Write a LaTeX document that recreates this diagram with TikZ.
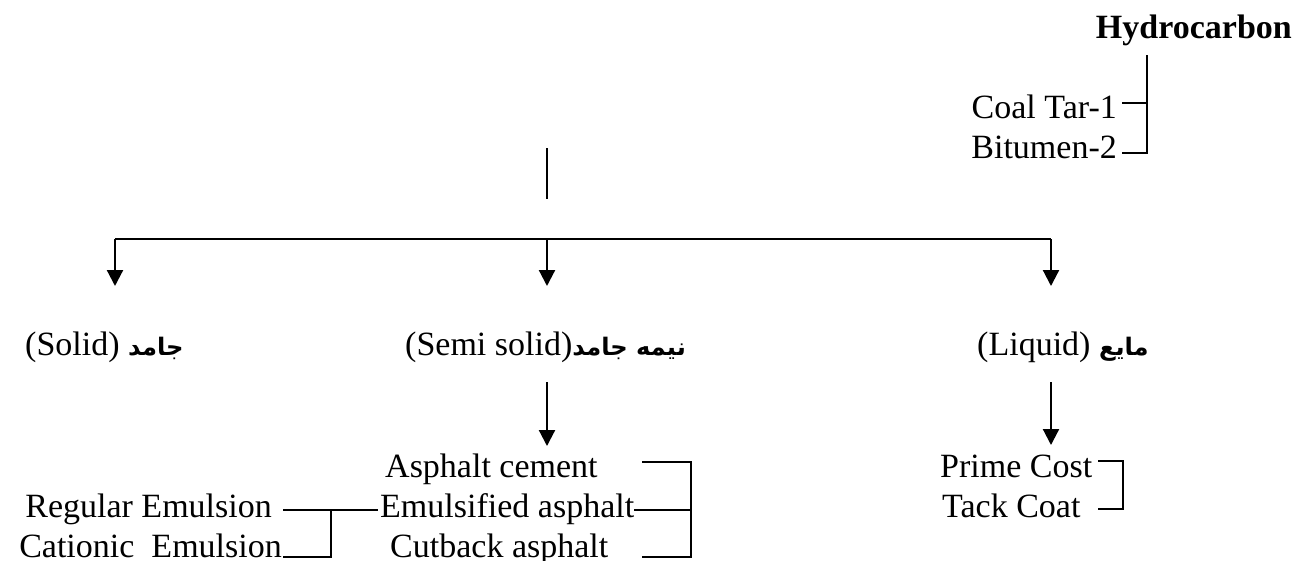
\documentclass[tikz,border=0pt]{standalone}
\usepackage{fontspec}
\setmainfont{Liberation Serif}
\newfontfamily\arabicfont[Script=Arabic, Scale=0.71]{DejaVu Sans}
\TeXXeTstate=1
\usetikzlibrary{positioning, calc, arrows.meta}
\tikzset{
	txt/.style = {inner sep = 0pt, font = \fontsize{34}{40}\selectfont},
	link/.style = {line width = 2.2pt},
	flow/.style = {line width = 2.2pt, -{Triangle[width = 16pt, length = 16pt]}}
}
\newcommand{\fa}[1]{{\arabicfont\bfseries\beginR #1\endR}}

\begin{document}
\begin{tikzpicture}[x = 1pt, y = -1pt]
		\useasboundingbox (0, 0) rectangle (1296, 560);
		% top: hydrocarbon
		\node (hydro)at (1292, 38)[txt, anchor = base east]  {\bfseries Hydrocarbon};
		\node (coal)at (1117, 118)[txt, anchor = base east]  {Coal Tar-1};
		\node (bitumen)at (1117, 158)[txt, anchor = base east]  {Bitumen-2};
		\coordinate (h1) at (1147, 55);
		\coordinate (h2) at (1147, 153);
		\draw [link]($(coal.base east)+(5, -15)$) -- ($(coal.base east)+(30, -15)$);
		\draw [link](h1) -- (h2) -- ($(bitumen.base east)+(5, -5)$);
		% tree
		\coordinate (stem1) at (547, 148);
		\coordinate (stem2) at (547, 199);
		\coordinate (barL) at (115, 239);
		\coordinate (barM) at (547, 239);
		\coordinate (barR) at (1051, 239);
		\draw [link](stem1) -- (stem2);
		\draw [link](barL) -- (barR);
		\draw [flow](barL) -- ++(0, 47);
		\draw [flow](barM) -- ++(0, 47);
		\draw [flow](barR) -- ++(0, 47);
		\node (solid)at (25, 355)[txt, anchor = base west]  {(Solid) \fa{جامد}};
		\node (semi)at (405, 355)[txt, anchor = base west]  {(Semi solid)\fa{نیمه جامد}};
		\node (liquid)at (977, 355)[txt, anchor = base west]  {(Liquid) \fa{مایع}};
		% semi solid
		\coordinate (s1) at (547, 382);
		\coordinate (s2) at (547, 446);
		\draw [flow](s1) -- (s2);
		\node (cement)at (385, 477)[txt, anchor = base west]  {Asphalt cement};
		\node (emuls)at (380, 517)[txt, anchor = base west]  {Emulsified asphalt};
		\node (cutback)at (390, 557)[txt, anchor = base west]  {Cutback asphalt};
		\coordinate (b1) at (691, 462);
		\coordinate (b2) at (691, 557);
		\draw [link](642, 462) -- (b1) -- (b2) -- (642, 557);
		\draw [link](emuls.base east |- 0, 510) -- (b1 |- 0, 510);
		\node (regular)at (272, 517)[txt, anchor = base east]  {Regular Emulsion};
		\node (cationic)at (282, 557)[txt, anchor = base east]  {Cationic\ \ Emulsion};
		\coordinate (e1) at (331, 510);
		\draw [link]($(regular.base east)+(11, -7)$) -- ($(emuls.base west)+(-2, -7)$);
		\draw [link](e1) -- (331, 557) -- ($(cationic.base east)+(1, 0)$);
		% liquid
		\coordinate (l1) at (1051, 382);
		\coordinate (l2) at (1051, 445);
		\draw [flow](l1) -- (l2);
		\node (prime)at (940, 477)[txt, anchor = base west]  {Prime Cost};
		\node (tack)at (942, 517)[txt, anchor = base west]  {Tack Coat};
		\coordinate (p1) at (1123, 461);
		\coordinate (p2) at (1123, 509);
		\draw [link](1098, 461) -- (p1) -- (p2) -- (1098, 509);
	\end{tikzpicture}
\end{document}
